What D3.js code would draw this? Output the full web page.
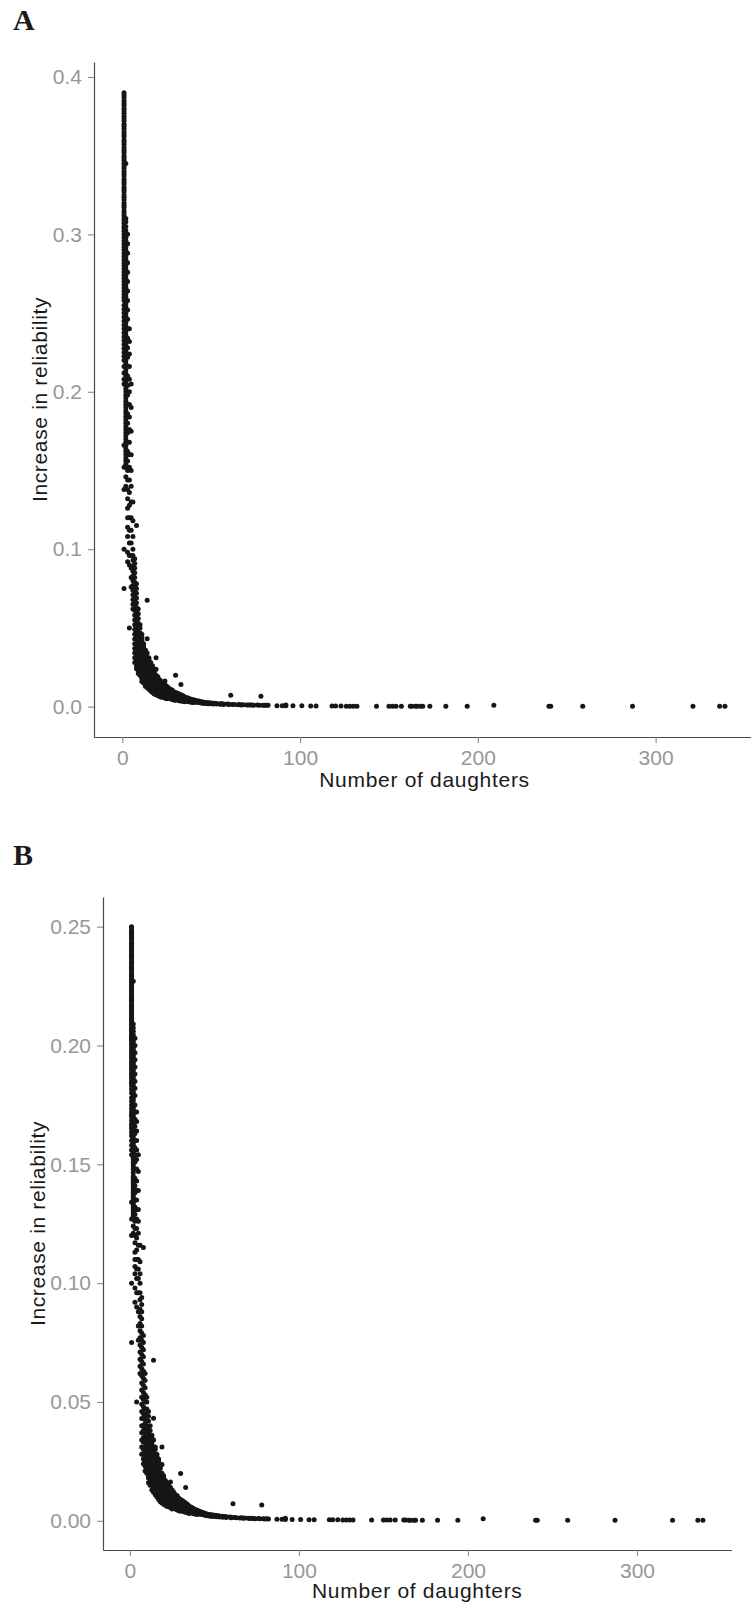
<!DOCTYPE html>
<html><head><meta charset="utf-8">
<script src="https://cdn.jsdelivr.net/npm/d3@7/dist/d3.min.js"></script>
<style>body{margin:0;background:#fff}svg{display:block}</style>
</head><body>
<svg id="chart" width="751" height="1607"></svg>
<script>
// ---- data ----
// Column of high gains at 1–6 daughters (differs between panels A and B)
const colDaughters = [1, 2, 3, 4, 5, 6];
const colGainA = [
  [.390,.3885,.387,.385,.3835,.382,.380,.3785,.377,.375,.3735,.372,.370,.3685,.367,.365,.3635,.362,.360,.3585,.357,.355,.3535,.352,.350,.3485,.347,.345,.3435,.342,.340,.3385,.337,.335,.3335,.332,.330,.3285,.327,.325,.3235,.322,.320,.3185,.317,.315,.3135,.312,.310,.3085,.307,.305,.3035,.302,.300,.298,.296,.294,.292,.290,.288,.286,.284,.282,.280,.278,.276,.274,.272,.270,.268,.266,.264,.262,.260,.258,.255,.2525,.250,.2475,.245,.2425,.240,.2375,.235,.2325,.230,.2275,.225,.2225,.220,.216,.212,.208,.205,.166,.152,.138],
  [.345,.310,.308,.305,.3025,.300,.298,.296,.294,.292,.290,.288,.286,.284,.282,.280,.278,.276,.274,.272,.270,.268,.266,.264,.262,.260,.258,.256,.254,.252,.250,.248,.246,.244,.242,.240,.238,.236,.234,.232,.230,.228,.226,.224,.222,.220,.218,.216,.214,.212,.210,.208,.206,.204,.202,.200,.198,.196,.194,.192,.190,.188,.186,.184,.182,.180,.178,.176,.174,.172,.170,.168,.166,.164,.162,.160,.158,.156,.154,.152,.146,.140],
  [.300,.294,.288,.282,.276,.270,.264,.258,.252,.246,.240,.234,.228,.222,.216,.210,.204,.198,.192,.186,.180,.174,.168,.162,.156,.150,.144,.138,.132,.126,.120,.114,.108],
  [.240,.232,.224,.216,.208,.200,.192,.184,.176,.168,.160,.152,.144,.136,.128,.120,.112,.104],
  [.205,.190,.175,.160,.150,.140,.130,.120,.112,.104],
  [.130,.118,.108]
];
const colGainB = [
  [.250,.2495,.2485,.248,.2475,.247,.2465,.246,.2455,.245,.2445,.243,.2435,.242,.2425,.241,.2415,.240,.2405,.2395,.238,.2385,.237,.2375,.2365,.235,.2355,.234,.2345,.233,.2335,.232,.2325,.2315,.230,.2305,.229,.2295,.228,.2285,.227,.2275,.2265,.225,.2255,.224,.2245,.223,.2235,.2225,.221,.2215,.220,.2205,.219,.2195,.2185,.217,.2175,.216,.2165,.215,.2155,.214,.2145,.2135,.212,.2125,.211,.2115,.210,.2105,.209,.2095,.2085,.207,.2075,.206,.2065,.2055,.204,.2045,.203,.2035,.2025,.202,.201,.200,.199,.198,.197,.196,.195,.194,.193,.192,.191,.190,.189,.188,.187,.186,.185,.184,.183,.1815,.180,.178,.1765,.175,.1735,.172,.171,.170,.1685,.167,.166,.165,.1635,.162,.160,.158,.156,.154,.134,.127,.120],
  [.227,.209,.2075,.206,.2045,.203,.202,.201,.200,.199,.198,.197,.196,.195,.194,.193,.192,.191,.190,.189,.188,.187,.186,.185,.184,.183,.182,.181,.180,.179,.178,.177,.1755,.174,.173,.172,.171,.170,.169,.168,.167,.166,.165,.164,.163,.162,.161,.160,.159,.158,.157,.156,.155,.154,.153,.152,.151,.150,.149,.148,.1465,.145,.144,.143,.142,.141,.140,.139,.138,.137,.136,.135,.134,.133,.132,.131,.130,.129,.128,.127,.124,.121],
  [.203,.200,.197,.194,.191,.188,.185,.182,.179,.175,.172,.169,.166,.163,.160,.157,.154,.151,.148,.144,.141,.138,.135,.132,.129,.126,.123,.120,.117,.113,.110,.107,.104],
  [.172,.168,.164,.160,.156,.152,.148,.143,.139,.135,.131,.127,.123,.119,.114,.110,.106,.102],
  [.154,.147,.139,.131,.126,.121,.116,.110,.106,.102],
  [.116,.109,.104]
];
// Lower band and tail (same values in both panels)
const bandDaughters = [1,3,4,5,6,7,8,9,10,11,12,13,14,15,16,17,18,19,20,21,22,23,24,25,26,27,28,29,30,31,32,33,34,35,36,37,38,39,40,41,42,43,44,45,46,47,48,49,50,51,52,53,55,56,57,59,60,61,62,63,65,66,67,68,70,71,72,73,74,76,77,78,79,80,81,82,87,90,92,96,101,106,109,118,120,123,126,128,130,132,143,150,152,154,157,162,163,165,166,168,169,173,182,194,209,240,241,259,287,321,336,339];
const bandGain = [
  [.100,.075],
  [.098,.092],
  [.096,.090,.050],
  [.096,.088,.082,.076],
  [.100,.096,.093,.089,.086,.083,.080,.077,.074,.071,.068,.065,.062],
  [.094,.091,.088,.085,.082,.079,.076,.073,.070,.067,.064,.061,.058,.055,.052,.049,.046,.043,.040,.037,.034,.031,.028],
  [.115,.078,.075,.072,.069,.066,.063,.060,.057,.054,.051,.048,.045,.043,.040,.038,.035,.033,.030,.028,.026,.024],
  [.062,.059,.056,.053,.050,.047,.045,.043,.041,.039,.037,.035,.033,.031,.029,.027,.025,.023,.021],
  [.052,.050,.047,.044,.042,.040,.038,.036,.034,.032,.030,.028,.026,.024,.022,.020],
  [.046,.044,.042,.039,.037,.035,.033,.031,.029,.027,.025,.023,.021,.019,.018,.016],
  [.040,.038,.036,.034,.032,.030,.028,.027,.025,.024,.022,.020,.018,.017,.015],
  [.036,.035,.033,.032,.030,.028,.026,.025,.023,.022,.020,.019,.017,.015,.013],
  [.0676,.0432,.034,.031,.029,.027,.026,.024,.023,.021,.020,.018,.017,.015,.014,.012],
  [.031,.030,.028,.027,.025,.024,.022,.021,.019,.018,.016,.015,.013,.012,.011],
  [.028,.027,.026,.025,.023,.022,.020,.019,.017,.016,.014,.013,.012,.011,.010],
  [.026,.025,.024,.022,.021,.020,.018,.017,.015,.014,.013,.012,.011,.010,.009],
  [.023,.022,.020,.019,.017,.016,.014,.013,.012,.011,.010,.009,.008],
  [.031,.0237,.020,.019,.018,.017,.015,.014,.013,.012,.011,.010,.009,.008,.0075],
  [.019,.018,.016,.015,.014,.013,.012,.011,.010,.009,.0085,.008,.007],
  [.017,.016,.015,.014,.013,.012,.011,.010,.009,.008,.0075,.0065],
  [.016,.015,.014,.013,.012,.011,.010,.009,.0085,.0075,.007,.006],
  [.015,.014,.013,.012,.011,.010,.009,.008,.0075,.0068,.006],
  [.0163,.014,.013,.012,.011,.010,.009,.0085,.0078,.007,.0062,.0055],
  [.013,.012,.011,.010,.0095,.0088,.008,.0072,.0065,.0058,.005],
  [.012,.011,.010,.0092,.0085,.0078,.007,.0062,.0055],
  [.011,.010,.0095,.0088,.008,.0072,.0065,.0058,.005],
  [.0105,.0098,.009,.0082,.0075,.0068,.006,.0052,.0045],
  [.0095,.0088,.008,.0075,.007,.0062,.0055,.0048,.0042],
  [.0199,.009,.0082,.0075,.0068,.0062,.0056,.005,.0045,.004],
  [.0085,.0078,.007,.0064,.0058,.0052,.0046],
  [.008,.0072,.0065,.0058,.0052,.0045,.0038],
  [.014,.0075,.0068,.006,.0054,.0048,.0042,.0036],
  [.007,.0063,.0056,.005,.0044,.0039,.0034],
  [.0062,.0056,.005,.0045,.004,.0031],
  [.0058,.0052,.0046,.0041,.0036],
  [.0055,.0049,.0043,.0037,.0032],
  [.005,.0045,.004,.0035,.003],
  [.0046,.0041,.0036,.0032,.0028],
  [.0044,.0039,.0034,.003,.0026],
  [.004,.0035,.003],
  [.0038,.0033,.0028],
  [.0035,.0031,.0026],
  [.0033,.0028,.0024],
  [.003,.0026,.0022],
  [.0028,.0021],
  [.0027,.002],
  [.0025,.0019],
  [.0024,.0018],
  [.0023],
  [.0022,.0017],
  [.0021],
  [.002,.0016],
  [.0019,.0015],
  [.0018],
  [.0017,.0014],
  [.0016],
  [.0015,.0013],
  [.0072],
  [.0014],
  [.0013],
  [.0012],
  [.0013],
  [.0011],
  [.0012],
  [.0011],
  [.0010],
  [.0011],
  [.0010],
  [.0009],
  [.0010],
  [.0009],
  [.0066],
  [.0009],
  [.0008],
  [.0009],
  [.0008],
  [.0006],
  [.0006],
  [.0005,.0011],
  [.0005],
  [.0005],
  [.0004],
  [.0004],
  [.0004],
  [.0004],
  [.0004],
  [.0003],
  [.0003],
  [.0003],
  [.0003],
  [.0003],
  [.0003],
  [.0003],
  [.0003],
  [.0003],
  [.0003],
  [.0003],
  [.0002],
  [.0002],
  [.0002],
  [.0002],
  [.0002],
  [.0002],
  [.0002],
  [.0009],
  [.0002],
  [.0002],
  [.0002],
  [.0002],
  [.0002],
  [.0002],
  [.0002]
];
const ticksYA = [0, 0.1, 0.2, 0.3, 0.4];
const ticksYB = [0, 0.05, 0.10, 0.15, 0.20, 0.25];
const ticksX = [0, 100, 200, 300];
const panelLabels = ["A", "B"];
const xTitle = "Number of daughters";
const yTitle = "Increase in reliability";

// ---- build point sets ----
function flatten(ds, gs) {
  const out = [];
  ds.forEach((d, i) => (gs[i] || []).forEach(g => out.push({ n: d, g: g })));
  return out;
}
const bandPts = flatten(bandDaughters, bandGain);
const ptsA = flatten(colDaughters, colGainA).concat(bandPts);
const ptsB = flatten(colDaughters, colGainB).concat(bandPts);

const panels = [
  { label: panelLabels[0], pts: ptsA, ticks: ticksYA, fmt: d3.format(".1f"),
    left: 94, right: 755, top: 62, bottom: 737, labelY: 30, yTitleX: 46.5, xTitleY: 787 },
  { label: panelLabels[1], pts: ptsB, ticks: ticksYB, fmt: d3.format(".2f"),
    left: 103, right: 731.5, top: 897, bottom: 1550, labelY: 865, yTitleX: 45, xTitleY: 1598 }
];

const svg = d3.select("#chart");
const SANS = "'Liberation Sans', Arial, Helvetica, sans-serif";

panels.forEach(p => {
  const xe = d3.extent(p.pts, d => d.n);
  const ye = d3.extent(p.pts, d => d.g);
  const xp = (xe[1] - xe[0]) * 0.05, yp = (ye[1] - ye[0]) * 0.05;
  const x = d3.scaleLinear().domain([xe[0] - xp, xe[1] + xp]).range([p.left, p.right]);
  const y = d3.scaleLinear().domain([ye[0] - yp, ye[1] + yp]).range([p.bottom, p.top]);

  const g = svg.append("g");

  g.append("g").selectAll("circle").data(p.pts).join("circle")
    .attr("cx", d => x(d.n)).attr("cy", d => y(d.g)).attr("r", 2.5)
    .attr("fill", "#161616");

  const ya = g.append("g").attr("transform", `translate(${p.left},0)`)
    .call(d3.axisLeft(y).tickValues(p.ticks).tickFormat(p.fmt).tickSize(6).tickPadding(6).tickSizeOuter(0));
  const xa = g.append("g").attr("transform", `translate(0,${p.bottom})`)
    .call(d3.axisBottom(x).tickValues(ticksX).tickFormat(d3.format("d")).tickSize(6).tickPadding(7).tickSizeOuter(0));

  [ya, xa].forEach(a => {
    a.select(".domain").attr("stroke", "#4a4a4a").attr("stroke-width", 1.2);
    a.selectAll(".tick line").attr("stroke", "#8a8a8a").attr("stroke-width", 1.1);
    a.selectAll(".tick text").attr("fill", "#979797").style("font-family", SANS).style("font-size", "21px");
  });

  g.append("text").attr("x", (p.left + p.right) / 2).attr("y", p.xTitleY)
    .attr("text-anchor", "middle").style("font-family", SANS).style("font-size", "21px")
    .style("letter-spacing", "0.7px").attr("fill", "#1a1a1a").text(xTitle);

  g.append("text").attr("transform", `translate(${p.yTitleX},${(p.top + p.bottom) / 2}) rotate(-90)`)
    .attr("text-anchor", "middle").style("font-family", SANS).style("font-size", "21px")
    .style("letter-spacing", "0.65px").attr("fill", "#1a1a1a").text(yTitle);

  g.append("text").attr("x", 13).attr("y", p.labelY)
    .style("font-family", "'Liberation Serif', 'Times New Roman', serif").style("font-weight", "bold")
    .style("font-size", "30px").attr("fill", "#1a1a1a").text(p.label);
});
</script>
</body></html>
